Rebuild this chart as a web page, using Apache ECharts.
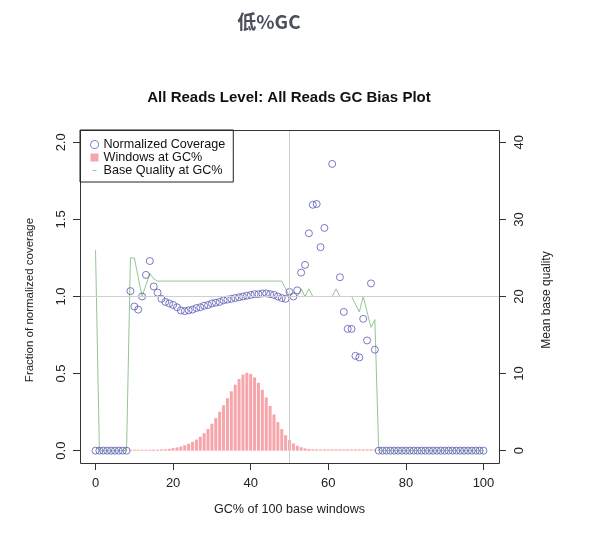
<!DOCTYPE html>
<html>
<head>
<meta charset="utf-8">
<script src="https://cdn.jsdelivr.net/npm/echarts@6/dist/echarts.min.js"></script>
<style>
html,body{margin:0;padding:0;background:#fff;}
#chart{width:600px;height:534px;}
</style>
</head>
<body>
<div id="chart"></div>
<script>
// GC% bins
var gcPercent = [0,1,2,3,4,5,6,7,8,9,10,11,12,13,14,15,16,17,18,19,20,21,22,23,24,25,26,27,28,29,30,31,32,33,34,35,36,37,38,39,40,41,42,43,44,45,46,47,48,49,50,51,52,53,54,55,56,57,58,59,60,61,62,63,64,65,66,67,68,69,70,71,72,73,74,75,76,77,78,79,80,81,82,83,84,85,86,87,88,89,90,91,92,93,94,95,96,97,98,99,100];

// Normalized coverage (left axis)
var normalizedCoverage = [
  0,0,0,0,0,0,0,0,0,
  1.035,0.935,0.915,1.0,1.14,1.23,1.065,1.025,0.985,0.965,
  0.955,0.945,0.93,0.91,0.905,0.91,0.915,0.925,0.93,0.94,
  0.945,0.955,0.96,0.965,0.975,0.98,0.985,0.99,0.995,1.0,
  1.005,1.01,1.015,1.015,1.02,1.02,1.015,1.01,1.0,0.99,
  0.985,1.03,1.0,1.04,1.155,1.205,1.41,1.595,1.6,1.32,
  1.445,null,1.86,null,1.125,0.9,0.79,0.79,0.615,0.605,
  0.855,0.715,1.085,0.655,
  0,0,0,0,0,0,0,0,0,0,0,0,0,0,0,0,0,0,0,0,0,0,0,0,0,0,0,0
];

// Windows at GC% (left axis units)
var windowsAtGC = [
  null,null,null,null,null,null,null,null,null,
  0.006,0.006,0.006,0.006,0.006,0.006,0.007,0.007,0.008,0.009,
  0.012,0.016,0.021,0.027,0.035,0.045,0.057,0.072,0.09,0.113,
  0.14,0.175,0.212,0.252,0.295,0.34,0.385,0.428,0.465,0.493,
  0.505,0.497,0.475,0.44,0.395,0.345,0.29,0.235,0.185,0.14,
  0.1,0.07,0.047,0.032,0.022,0.015,0.011,0.009,0.008,0.008,
  0.008,0.008,0.008,0.008,0.008,0.008,0.008,0.008,0.008,0.008,
  0.008,0.008,0.008,0.008,
  null,null,null,null,null,null,null,null,null,null,null,null,null,null,null,null,null,null,null,null,null,null,null,null,null,null,null,null
];

// Mean base quality (right axis)
var baseQuality = [
  26,0,0,0,0,0,0,0,0,
  25,25,22.5,20,21.5,23,22.3,22,22,22,
  22,22,22,22,22,22,22,22,22,22,
  22,22,22,22,22,22,22,22,22,22,
  22,22,22,22,22,22,22,22,22,22,
  21,20,20,20,21,20,21,20,20,20,
  20,20,20,21,20,20,20,20,19,18,
  20,18,16,17,
  0,0,0,0,0,0,0,0,0,0,0,0,0,0,0,0,0,0,0,0,0,0,0,0,0,0,0,0
];

var xTicks = [0,20,40,60,80,100];
var yLeftTicks = [0,0.5,1.0,1.5,2.0];
var yRightTicks = [0,10,20,30,40];

// plot box (data units) and the 7px tick band outside it
var BOX = {left:80, top:130, width:419, height:333};
var TICK = 7;
var xBox = [-4, 104], yBox = [-0.08, 2.08], qBox = [-1.6, 41.6];
function ext(r, px, sides){ // sides: [extendLow, extendHigh] in px
  var per = (r[1]-r[0]) / px;
  return [r[0] - sides[0]*per, r[1] + sides[1]*per];
}
var xExt = ext(xBox, BOX.width, [TICK, TICK]);
var yExt = ext(yBox, BOX.height, [TICK, 0]);
var qExt = ext(qBox, BOX.height, [TICK, 0]);

function pairs(vals){
  var out = [];
  for (var i = 0; i < gcPercent.length; i++) {
    if (vals[i] !== null && vals[i] !== undefined) out.push([gcPercent[i], vals[i]]);
  }
  return out;
}

var FONT = 'Liberation Sans, Arial, Helvetica, sans-serif';
var covColor = '#5a5ab4';
var winColor = '#f6a5aa';
var qualColor = '#94c694';
var noLine = {width:0, opacity:0};

function tickOpt(vals){
  return {show:true, inside:true, length:TICK, lineStyle:{color:'#333', width:1}, customValues:vals};
}
var hiddenLine = {show:true, onZero:false, lineStyle:{color:'#333', width:1, opacity:0}};

var chart = echarts.init(document.getElementById('chart'), null, {renderer:'canvas'});
var option = {
  animation: false,
  backgroundColor: '#ffffff',
  graphic: [
    {type:'text', style:{text:'低%GC', x:269, y:22, textAlign:'center', textVerticalAlign:'middle',
      font:'bold 19px "Noto Sans CJK SC", sans-serif', fill:'#4b4f5c'}},
    {type:'text', style:{text:'All Reads Level: All Reads GC Bias Plot', x:289, y:98, textAlign:'center', textVerticalAlign:'middle',
      font:'bold 15px ' + FONT, fill:'#111'}},
    {type:'rect', z:10, silent:true,
      shape:{x:BOX.left+0.5, y:BOX.top+0.5, width:BOX.width, height:BOX.height},
      style:{fill:null, stroke:'#333', lineWidth:1}}
  ],
  grid: {left:BOX.left-TICK, top:BOX.top, width:BOX.width+2*TICK, height:BOX.height+TICK, show:false},
  legend: {
    orient:'vertical', left:80, top:130, z:20,
    borderColor:'#222', borderWidth:1, borderRadius:0,
    padding:[8,8,5,10], itemGap:0, itemWidth:8, itemHeight:8,
    textStyle:{fontFamily:FONT, fontSize:12.6, color:'#111', lineHeight:13},
    selectedMode:false,
    data:[
      {name:'Normalized Coverage', icon:'path://M4,0.5A3.5,3.5,0,1,1,3.99,0.5Z', itemStyle:{color:'rgba(0,0,0,0)', borderColor:covColor, borderWidth:1}, lineStyle:noLine},
      {name:'Windows at GC%', icon:'rect', itemStyle:{color:winColor, borderWidth:0}, lineStyle:noLine},
      {name:'Base Quality at GC%', icon:'path://M0,0L0.05,0L0,0.05Z M8,8L7.95,8L8,7.95Z M2,3.6L6,3.6L6,4.4L2,4.4Z', itemStyle:{color:qualColor, borderWidth:0}, lineStyle:noLine}
    ]
  },
  xAxis: {
    type:'value', min:xExt[0], max:xExt[1], position:'bottom',
    name:'GC% of 100 base windows', nameLocation:'middle', nameGap:33,
    nameTextStyle:{fontFamily:FONT, fontSize:12.6, color:'#222'},
    axisLine:hiddenLine,
    axisTick:tickOpt(xTicks),
    axisLabel:{fontFamily:FONT, fontSize:13, color:'#222', margin:7, customValues:xTicks},
    splitLine:{show:false}
  },
  yAxis: [
    {
      type:'value', min:yExt[0], max:yExt[1], position:'left',
      name:'Fraction of normalized coverage', nameLocation:'middle', nameGap:37, nameRotate:90,
      nameTextStyle:{fontFamily:FONT, fontSize:11.5, color:'#222'},
      axisLine:hiddenLine,
      axisTick:tickOpt(yLeftTicks),
      axisLabel:{fontFamily:FONT, fontSize:13, color:'#222', rotate:90, margin:5, customValues:yLeftTicks,
        formatter:function(v){return v.toFixed(1);}},
      splitLine:{show:false}
    },
    {
      type:'value', min:qExt[0], max:qExt[1], position:'right',
      name:'Mean base quality', nameLocation:'middle', nameGap:35, nameRotate:90,
      nameTextStyle:{fontFamily:FONT, fontSize:12, color:'#222'},
      axisLine:hiddenLine,
      axisTick:tickOpt(yRightTicks),
      axisLabel:{fontFamily:FONT, fontSize:13, color:'#222', rotate:90, margin:7, customValues:yRightTicks},
      splitLine:{show:false}
    }
  ],
  series: [
    {
      name:'Windows at GC%', type:'bar', xAxisIndex:0, yAxisIndex:0,
      data:pairs(windowsAtGC), barWidth:3, itemStyle:{color:winColor}, z:1, silent:true
    },
    {
      name:'Base Quality at GC%', type:'line', xAxisIndex:0, yAxisIndex:1,
      data:pairs(baseQuality), symbol:'none', showSymbol:false,
      lineStyle:{color:qualColor, width:1}, itemStyle:{color:qualColor}, z:2, silent:true
    },
    {
      name:'Normalized Coverage', type:'scatter', xAxisIndex:0, yAxisIndex:0,
      data:pairs(normalizedCoverage), symbol:'circle', symbolSize:7,
      itemStyle:{color:'rgba(0,0,0,0)', borderColor:covColor, borderWidth:1}, z:3, silent:true,
      markLine:{
        silent:true, symbol:['none','none'], label:{show:false},
        lineStyle:{color:'#cfcfcf', width:1, type:'solid'},
        data:[
          [{coord:[xBox[0], 1.0]}, {coord:[xBox[1], 1.0]}],
          [{coord:[50, yBox[0]]}, {coord:[50, yBox[1]]}]
        ]
      }
    }
  ]
};
chart.setOption(option);
</script>
</body>
</html>
